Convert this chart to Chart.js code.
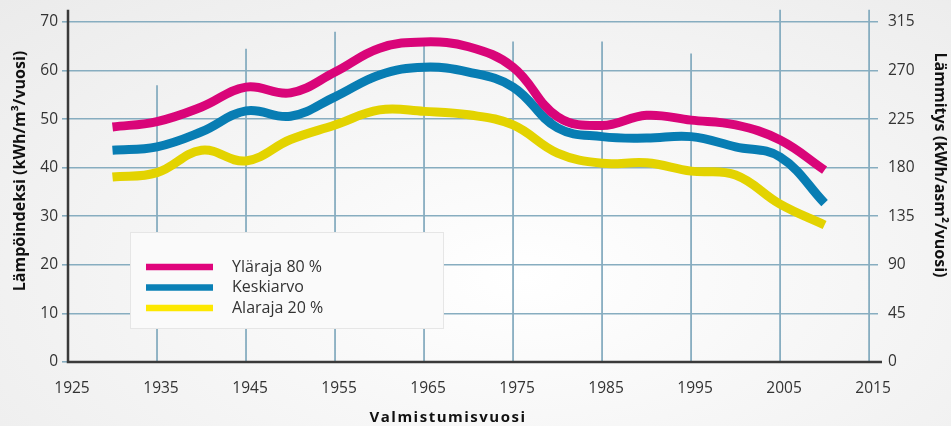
<!DOCTYPE html>
<html>
<head>
<meta charset="utf-8">
<script src="https://cdn.jsdelivr.net/npm/chart.js@4"></script>
<style>
    html, body { margin: 0; padding: 0; }
    body {
        width: 951px;
        height: 426px;
        overflow: hidden;
        background: radial-gradient(ellipse at 55% 65%, #ffffff 0%, #f6f6f6 45%, #ebebeb 100%);
    }
</style>
</head>
<body>
<canvas id="chart" width="951" height="426"></canvas>
<script>
// values
const years = [1930, 1935, 1940, 1945, 1950, 1955, 1960, 1965, 1970, 1975, 1980, 1985, 1990, 1995, 2000, 2005, 2010];
const upper80 = [48.4, 49.5, 52.5, 56.6, 55.4, 59.7, 64.6, 65.9, 64.9, 60.7, 50.5, 48.7, 50.8, 49.8, 48.8, 45.7, 39.5];
const average = [43.6, 44.3, 47.4, 51.7, 50.6, 54.6, 59.1, 60.7, 59.7, 56.6, 48.2, 46.4, 46.1, 46.4, 44.3, 42.2, 32.7];
const lower20 = [38.1, 39.0, 43.6, 41.4, 45.8, 48.8, 51.9, 51.6, 50.9, 48.8, 43.0, 40.9, 41.0, 39.3, 38.5, 32.5, 28.2];
const seriesLabels = ['Yläraja 80 %', 'Keskiarvo', 'Alaraja 20 %'];
const xTicks = [1925, 1935, 1945, 1955, 1965, 1975, 1985, 1995, 2005, 2015];
const leftTicks = [0, 10, 20, 30, 40, 50, 60, 70];
const rightTicks = [0, 45, 90, 135, 180, 225, 270, 315];

const GRID = '#87adc0';
const TEXT = '#333333';
const FONT = '"Open Sans", "DejaVu Sans", sans-serif';

const toPoints = (vals) => vals.map((v, i) => ({ x: years[i], y: v }));

/**
 * Vertical grid lines of uneven height, axis lines, titles and the boxed legend
 */
const decorations = {
    id: 'decorations',
    beforeDatasetsDraw(chart, args, opts) {
        const { ctx, scales: { x, y } } = chart;
        ctx.save();
        ctx.strokeStyle = GRID;
        ctx.lineWidth = 1.8;
        Object.entries(opts.gridTops).forEach(([year, top]) => {
            const px = x.getPixelForValue(+year);
            ctx.beginPath();
            ctx.moveTo(px, y.getPixelForValue(top));
            ctx.lineTo(px, y.getPixelForValue(0));
            ctx.stroke();
        });

        // axis lines
        ctx.strokeStyle = '#3a3a3a';
        ctx.lineWidth = 2.5;
        ctx.beginPath();
        ctx.moveTo(x.getPixelForValue(1925), y.getPixelForValue(72.5));
        ctx.lineTo(x.getPixelForValue(1925), y.getPixelForValue(0));
        ctx.lineTo(chart.chartArea.right + 4, y.getPixelForValue(0));
        ctx.stroke();
        ctx.restore();
    },
    afterDatasetsDraw(chart, args, opts) {
        const { ctx } = chart;
        ctx.save();

        // legend box
        const b = opts.legendBox;
        ctx.fillStyle = '#fafafa';
        ctx.strokeStyle = '#e6e6e6';
        ctx.lineWidth = 1;
        ctx.fillRect(b.x, b.y, b.w, b.h);
        ctx.strokeRect(b.x + 0.5, b.y + 0.5, b.w, b.h);

        ctx.font = '16px ' + FONT;
        ctx.textBaseline = 'middle';
        chart.data.datasets.forEach((ds, i) => {
            const ly = b.y + 35 + i * 20.5;
            ctx.strokeStyle = ds.legendColor;
            ctx.lineWidth = 6.5;
            ctx.beginPath();
            ctx.moveTo(b.x + 16, ly);
            ctx.lineTo(b.x + 83, ly);
            ctx.stroke();
            ctx.fillStyle = TEXT;
            ctx.fillText(ds.label, b.x + 102, ly);
        });

        // axis titles
        ctx.fillStyle = '#111';
        ctx.font = 'bold 16px ' + FONT;
        ctx.textAlign = 'center';
        ctx.save();
        ctx.translate(20, 171);
        ctx.rotate(-Math.PI / 2);
        ctx.fillText('Lämpöindeksi (kWh/m³/vuosi)', 0, 0);
        ctx.restore();

        ctx.save();
        ctx.translate(940, 165);
        ctx.rotate(Math.PI / 2);
        ctx.fillText('Lämmitys (kWh/asm²/vuosi)', 0, 0);
        ctx.restore();

        ctx.font = 'bold 15px ' + FONT;
        ctx.letterSpacing = '1.5px';
        ctx.fillText('Valmistumisvuosi', 448, 418);
        ctx.restore();
    }
};

const lineStyle = {
    borderWidth: 9,
    pointRadius: 0,
    tension: 0.4,
    fill: false,
    borderCapStyle: 'butt'
};

const config = {
    type: 'line',
    data: {
        datasets: [
            { ...lineStyle, label: seriesLabels[0], data: toPoints(upper80), borderColor: '#d90579', legendColor: '#e0057c' },
            { ...lineStyle, label: seriesLabels[1], data: toPoints(average), borderColor: '#087db3', legendColor: '#0a80b6' },
            { ...lineStyle, label: seriesLabels[2], data: toPoints(lower20), borderColor: '#e3d300', legendColor: '#fde800' }
        ]
    },
    options: {
        responsive: false,
        animation: false,
        layout: { padding: { top: 22, left: 0, right: 0, bottom: 0 } },
        plugins: {
            legend: { display: false },
            tooltip: { enabled: false },
            decorations: {
                gridTops: { 1935: 57, 1945: 64.5, 1955: 68, 1965: 65.5, 1975: 66, 1985: 66, 1995: 63.5, 2005: 72.5, 2015: 72.5 },
                legendBox: { x: 130, y: 232, w: 313, h: 96 }
            }
        },
        scales: {
            x: {
                type: 'linear',
                min: 1925,
                max: 2016,
                afterBuildTicks: (axis) => { axis.ticks = xTicks.map(v => ({ value: v })); },
                afterFit: (axis) => { axis.height = 64; },
                grid: { display: false, drawTicks: false },
                border: { display: false },
                ticks: {
                    padding: 17,
                    labelOffset: 4,
                    color: TEXT,
                    font: { family: FONT, size: 15.5 },
                    callback: (v) => String(v)
                }
            },
            y: {
                position: 'left',
                min: 0,
                max: 70,
                afterBuildTicks: (axis) => { axis.ticks = leftTicks.map(v => ({ value: v })); },
                afterFit: (axis) => { axis.width = 68; },
                grid: { color: GRID, lineWidth: 1.6, tickLength: 6 },
                border: { display: false },
                ticks: { padding: 4, color: TEXT, font: { family: FONT, size: 15.5 } }
            },
            y2: {
                position: 'right',
                min: 0,
                max: 315,
                afterBuildTicks: (axis) => { axis.ticks = rightTicks.map(v => ({ value: v })); },
                afterFit: (axis) => { axis.width = 73; },
                grid: { display: false, drawTicks: false },
                border: { display: false },
                ticks: { padding: 10, color: TEXT, font: { family: FONT, size: 15.5 } }
            }
        }
    },
    plugins: [decorations]
};

new Chart(document.getElementById('chart').getContext('2d'), config);
</script>
</body>
</html>
